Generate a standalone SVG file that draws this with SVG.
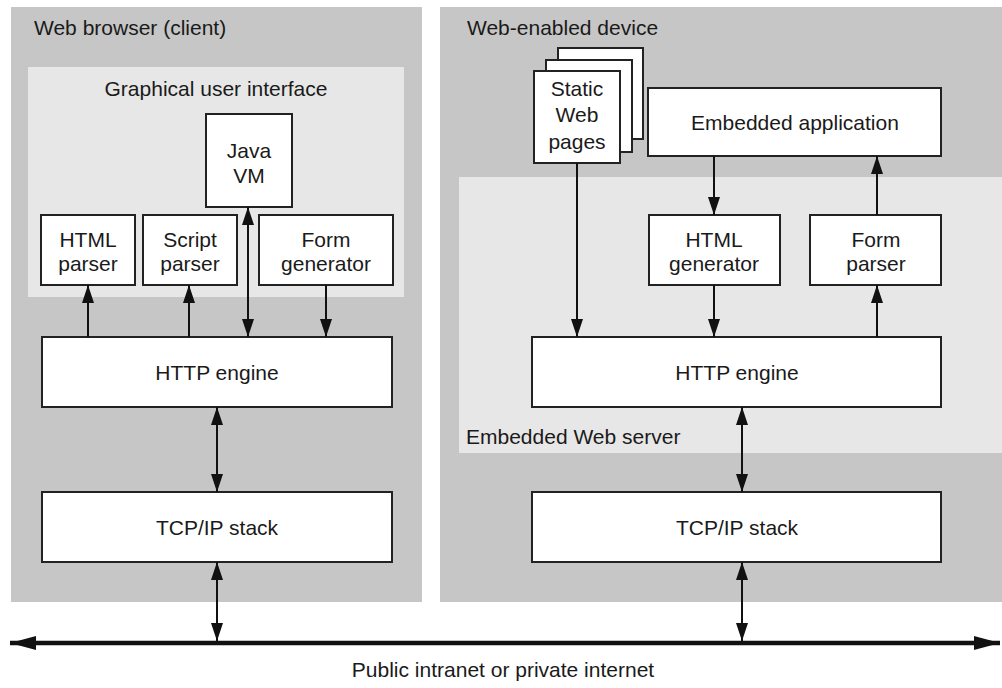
<svg xmlns="http://www.w3.org/2000/svg" width="1002" height="688" viewBox="0 0 1002 688">
  <style>
    .panel { fill: #c6c6c6; }
    .inner { fill: #e7e7e7; }
    .box { fill: #ffffff; stroke: #222222; stroke-width: 2; }
    .t { font-family: "Liberation Sans", Arial, sans-serif; font-size: 21px; fill: #1a1a1a; }
    .c { text-anchor: middle; }
    .ln { stroke: #111111; stroke-width: 2; fill: none; }
    .bus { stroke: #111111; stroke-width: 4.5; fill: none; }
  </style>
  <defs>
    <marker id="ah" viewBox="0 0 18 12" refX="18" refY="6" markerWidth="18" markerHeight="12" markerUnits="userSpaceOnUse" orient="auto-start-reverse">
      <path d="M0,0 L18,6 L0,12 z" fill="#111111"/>
    </marker>
    <marker id="bh" viewBox="0 0 26 14" refX="26" refY="7" markerWidth="26" markerHeight="14" markerUnits="userSpaceOnUse" orient="auto-start-reverse">
      <path d="M0,0 L26,7 L0,14 z" fill="#111111"/>
    </marker>
  </defs>

  <rect width="1002" height="688" fill="#ffffff"/>

  <g id="client">
    <rect class="panel" x="11" y="7" width="411" height="595"/>
    <text class="t" x="34" y="35">Web browser (client)</text>
  </g>
  <g id="gui">
    <rect class="inner" x="28" y="67" width="376" height="230"/>
    <text class="t c" x="216" y="96">Graphical user interface</text>
  </g>
  <g id="device">
    <rect class="panel" x="440" y="7" width="562" height="595"/>
    <text class="t" x="467" y="35">Web-enabled device</text>
  </g>
  <g id="server">
    <rect class="inner" x="459" y="177" width="543" height="276"/>
    <text class="t" x="466" y="444">Embedded Web server</text>
  </g>

  <g id="javavm">
    <rect class="box" x="206" y="114" width="86" height="93"/>
    <text class="t c" x="249" y="158">Java</text>
    <text class="t c" x="249" y="183">VM</text>
  </g>
  <g id="htmlparser">
    <rect class="box" x="41" y="215" width="94" height="70"/>
    <text class="t c" x="88" y="247">HTML</text>
    <text class="t c" x="88" y="271">parser</text>
  </g>
  <g id="scriptparser">
    <rect class="box" x="143" y="215" width="94" height="70"/>
    <text class="t c" x="190" y="247">Script</text>
    <text class="t c" x="190" y="271">parser</text>
  </g>
  <g id="formgen">
    <rect class="box" x="259" y="215" width="134" height="70"/>
    <text class="t c" x="326" y="247">Form</text>
    <text class="t c" x="326" y="271">generator</text>
  </g>
  <g id="http-client">
    <rect class="box" x="42" y="337" width="350" height="70"/>
    <text class="t c" x="217" y="380">HTTP engine</text>
  </g>
  <g id="tcp-client">
    <rect class="box" x="42" y="492" width="350" height="70"/>
    <text class="t c" x="217" y="535">TCP/IP stack</text>
  </g>

  <g id="staticpages">
    <rect class="box" x="558" y="48" width="85" height="91"/>
    <rect class="box" x="546" y="60" width="86" height="92"/>
    <rect class="box" x="534" y="71" width="86" height="92"/>
    <text class="t c" x="577" y="96">Static</text>
    <text class="t c" x="577" y="122">Web</text>
    <text class="t c" x="577" y="149">pages</text>
  </g>
  <g id="embapp">
    <rect class="box" x="648" y="88" width="293" height="68"/>
    <text class="t c" x="795" y="130">Embedded application</text>
  </g>
  <g id="htmlgen">
    <rect class="box" x="649" y="215" width="131" height="70"/>
    <text class="t c" x="714" y="247">HTML</text>
    <text class="t c" x="714" y="271">generator</text>
  </g>
  <g id="formparser">
    <rect class="box" x="810" y="215" width="131" height="70"/>
    <text class="t c" x="876" y="247">Form</text>
    <text class="t c" x="876" y="271">parser</text>
  </g>
  <g id="http-server">
    <rect class="box" x="532" y="337" width="409" height="70"/>
    <text class="t c" x="737" y="380">HTTP engine</text>
  </g>
  <g id="tcp-server">
    <rect class="box" x="532" y="492" width="409" height="70"/>
    <text class="t c" x="737" y="535">TCP/IP stack</text>
  </g>

  <g id="network">
    <text class="t c" x="503" y="677">Public intranet or private internet</text>
  </g>

  <g id="connectors">
    <path class="ln" d="M88,337 V285" marker-end="url(#ah)"/>
    <path class="ln" d="M189,337 V285" marker-end="url(#ah)"/>
    <path class="ln" d="M248,337 V207" marker-start="url(#ah)" marker-end="url(#ah)"/>
    <path class="ln" d="M326,285 V337" marker-end="url(#ah)"/>
    <path class="ln" d="M217,407 V492" marker-start="url(#ah)" marker-end="url(#ah)"/>
    <path class="ln" d="M217,562 V641" marker-start="url(#ah)" marker-end="url(#ah)"/>

    <path class="ln" d="M577,163 V337" marker-end="url(#ah)"/>
    <path class="ln" d="M714,156 V215" marker-end="url(#ah)"/>
    <path class="ln" d="M877,215 V156" marker-end="url(#ah)"/>
    <path class="ln" d="M714,285 V337" marker-end="url(#ah)"/>
    <path class="ln" d="M877,337 V285" marker-end="url(#ah)"/>
    <path class="ln" d="M742,407 V492" marker-start="url(#ah)" marker-end="url(#ah)"/>
    <path class="ln" d="M742,562 V641" marker-start="url(#ah)" marker-end="url(#ah)"/>

    <path class="bus" d="M10,643 H1000" marker-start="url(#bh)" marker-end="url(#bh)"/>
  </g>
</svg>
